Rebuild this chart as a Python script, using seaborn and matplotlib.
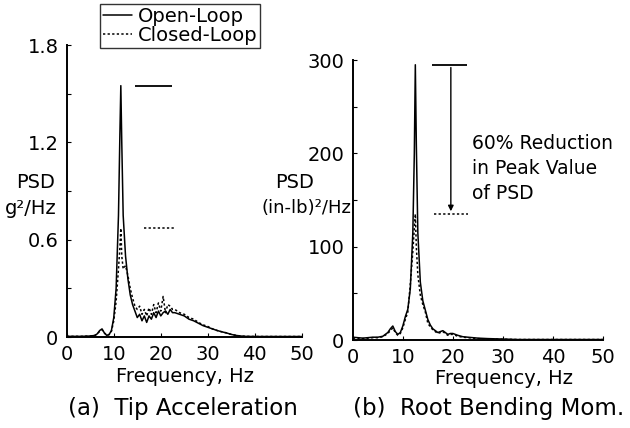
import matplotlib
matplotlib.use("Agg")
import matplotlib.pyplot as plt
from matplotlib.ticker import MultipleLocator
import seaborn as sns
import pandas as pd

# ---------------- data ----------------
tip_freq = [0, 1, 2, 3, 4, 5, 6, 6.5, 7, 7.5, 8, 8.5, 9, 9.5, 10, 10.5, 11, 11.3, 11.5, 11.7,
            12, 12.5, 13, 13.5, 14, 14.5, 15, 15.5, 16, 16.5, 17, 17.5, 18, 18.5, 19, 19.5,
            20, 20.5, 21, 21.5, 22, 22.5, 23, 24, 25, 26, 27, 28, 29, 30, 31, 32, 33, 34,
            35, 36, 37, 38, 40, 42, 45, 48, 50]
tip_open = [0.004, 0.004, 0.004, 0.004, 0.005, 0.006, 0.01, 0.02, 0.04, 0.05, 0.025, 0.01, 0.015,
            0.04, 0.12, 0.3, 0.75, 1.25, 1.55, 1.2, 0.75, 0.5, 0.36, 0.26, 0.2, 0.16, 0.12,
            0.14, 0.1, 0.13, 0.09, 0.13, 0.11, 0.15, 0.12, 0.16, 0.13, 0.15, 0.16, 0.14, 0.17,
            0.15, 0.15, 0.14, 0.13, 0.11, 0.1, 0.085, 0.07, 0.06, 0.05, 0.04, 0.032, 0.025,
            0.016, 0.01, 0.006, 0.004, 0.003, 0.003, 0.003, 0.003, 0.003]
tip_closed = [0.004, 0.004, 0.004, 0.004, 0.005, 0.006, 0.01, 0.02, 0.035, 0.045, 0.025, 0.01, 0.015,
              0.035, 0.1, 0.22, 0.42, 0.55, 0.67, 0.5, 0.42, 0.44, 0.38, 0.3, 0.24, 0.19, 0.17,
              0.19, 0.14, 0.17, 0.13, 0.18, 0.14, 0.2, 0.15, 0.21, 0.16, 0.25, 0.15, 0.2, 0.19,
              0.17, 0.17, 0.15, 0.14, 0.12, 0.11, 0.09, 0.075, 0.065, 0.05, 0.04, 0.032, 0.025,
              0.016, 0.01, 0.006, 0.004, 0.003, 0.003, 0.003, 0.003, 0.003]

root_freq = [0, 1, 2, 3, 4, 5, 6, 7, 7.5, 8, 8.5, 9, 9.5, 10, 10.5, 11, 11.5, 12, 12.3, 12.5,
             12.7, 13, 13.5, 14, 14.5, 15, 15.5, 16, 16.5, 17, 17.5, 18, 18.5, 19, 19.5, 20,
             20.5, 21, 22, 23, 24, 25, 27, 30, 33, 36, 40, 45, 50]
root_open = [3, 2.5, 2, 2.5, 3, 3, 4, 8, 12, 15, 9, 6, 8, 15, 25, 33, 55, 115, 200, 295,
             210, 115, 62, 42, 32, 22, 16, 12, 10, 8, 9, 10, 8, 6, 7, 7, 6, 5, 3.5, 3, 2.5,
             2, 1.5, 1, 0.5, 0.5, 0.5, 0.5, 0.5]
root_closed = [2, 2, 1.5, 2, 2.5, 2.5, 3.5, 7, 10, 13, 8, 5, 7, 13, 22, 30, 60, 95, 120, 135,
               100, 70, 48, 38, 30, 18, 14, 11, 9, 7, 8, 9, 7, 5, 6, 6, 5, 4, 3, 2.5, 2,
               1.5, 1, 0.8, 0.5, 0.5, 0.5, 0.5, 0.5]

tip_yticks = [0, 0.6, 1.2, 1.8]
tip_yticklabels = ["0", "0.6", "1.2", "1.8"]
root_yticks = [0, 100, 200, 300]
x_ticks = [0, 10, 20, 30, 40, 50]

tip_marker_open = 1.55
tip_marker_closed = 0.67
root_marker_open = 295
root_marker_closed = 135

# ---------------- style ----------------
sns.set_style("ticks")
plt.rcParams["font.family"] = ["DejaVu Sans"]
for k in ("text.color", "axes.labelcolor", "xtick.color", "ytick.color", "axes.edgecolor"):
    plt.rcParams[k] = "black"
FS = 14

fig = plt.figure(figsize=(6.3, 4.28), dpi=100)
axL = fig.add_axes([0.106, 0.2126, 0.373, 0.682])
axR = fig.add_axes([0.560, 0.2056, 0.397, 0.654])

tip = pd.DataFrame({"f": tip_freq, "open": tip_open, "closed": tip_closed})
root = pd.DataFrame({"f": root_freq, "open": root_open, "closed": root_closed})

dots = (0, (1.5, 1.5))
for ax, df in ((axL, tip), (axR, root)):
    sns.lineplot(data=df, x="f", y="open", ax=ax, color="black", lw=1.1, label="Open-Loop")
    sns.lineplot(data=df, x="f", y="closed", ax=ax, color="black", lw=1.1,
                 linestyle=dots, label="Closed-Loop")
    if ax.get_legend():
        ax.get_legend().remove()
    ax.set_xlim(0, 50)
    ax.set_xticks(x_ticks)
    ax.set_xlabel("")
    ax.set_ylabel("")
    sns.despine(ax=ax)
    ax.spines["left"].set_linewidth(1.4)
    ax.spines["bottom"].set_linewidth(1.4)
    ax.tick_params(which="both", direction="in", length=3, width=0.8, labelsize=FS, pad=6,
                   colors="black")

axL.set_ylim(0, 1.8)
axL.set_yticks(tip_yticks)
axL.set_yticklabels(tip_yticklabels)
axL.yaxis.set_minor_locator(MultipleLocator(0.3))
axR.set_ylim(0, 300)
axR.set_yticks(root_yticks)
axR.yaxis.set_minor_locator(MultipleLocator(50))

# peak markers
axL.hlines(tip_marker_open, 14.5, 22.4, color="black", lw=1.3)
axL.hlines(tip_marker_closed, 16.5, 23.3, color="black", lw=1.1, linestyles=dots)
axR.hlines(root_marker_open, 15.8, 22.8, color="black", lw=1.3)
axR.hlines(root_marker_closed, 16.3, 23.0, color="black", lw=1.1, linestyles=dots)
axR.annotate("", xy=(19.6, root_marker_closed), xytext=(19.6, root_marker_open),
             arrowprops=dict(arrowstyle="-|>", color="black", lw=1.0, mutation_scale=8))
axR.text(23.8, 184, "60% Reduction\nin Peak Value\nof PSD", fontsize=13.5,
         va="center", ha="left", linespacing=1.4)

# y labels
fig.text(36 / 630, 1 - 182 / 428, "PSD", ha="center", va="center", fontsize=FS)
fig.text(31 / 630, 1 - 208 / 428, "g²/Hz", ha="center", va="center", fontsize=FS)
fig.text(295 / 630, 1 - 182 / 428, "PSD", ha="center", va="center", fontsize=FS)
fig.text(306 / 630, 1 - 208 / 428, "(in-lb)²/Hz", ha="center", va="center", fontsize=13)

# x labels and captions
fig.text(185 / 630, 1 - 376 / 428, "Frequency, Hz", ha="center", va="center", fontsize=FS)
fig.text(504 / 630, 1 - 378 / 428, "Frequency, Hz", ha="center", va="center", fontsize=FS)
fig.text(183 / 630, 1 - 409 / 428, "(a)  Tip Acceleration", ha="center", va="center", fontsize=16.5)
fig.text(489 / 630, 1 - 409 / 428, "(b)  Root Bending Mom.", ha="center", va="center", fontsize=16.5)

# legend
handles, labels = axL.get_legend_handles_labels()
leg = fig.legend(handles, labels, loc="upper left", bbox_to_anchor=(100 / 630, 1 - 4 / 428),
                 frameon=True, fancybox=False, edgecolor="black", fontsize=FS,
                 handlelength=1.5, handletextpad=0.3, borderpad=0.15, labelspacing=0.0,
                 borderaxespad=0)
leg.get_frame().set_linewidth(1.0)

fig.savefig("out.png", dpi=100)
